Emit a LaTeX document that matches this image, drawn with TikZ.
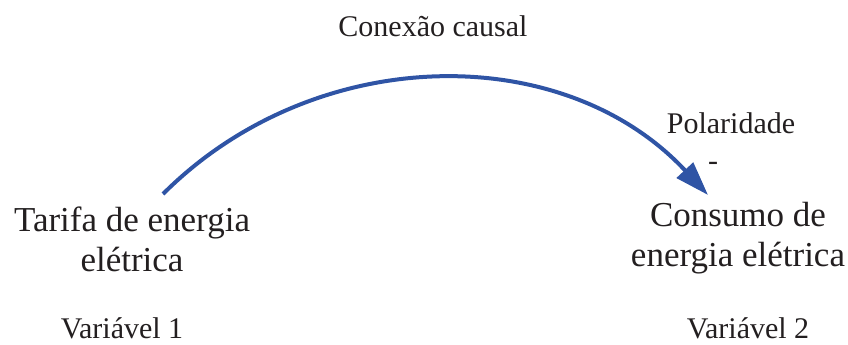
\documentclass[tikz,border=0pt]{standalone}
\usepackage{fontspec}
\setmainfont{Liberation Serif}
\usetikzlibrary{arrows.meta, positioning}
\definecolor{linkblue}{RGB}{47, 84, 165}
\definecolor{textgray}{RGB}{35, 31, 32}
\tikzset{
    varbox/.style={align=center, inner sep=0pt, text=textgray, font=\fontsize{35}{40}\selectfont},
    smalltext/.style={inner sep=0pt, text=textgray, font=\fontsize{30}{36}\selectfont},
    link/.style={draw=linkblue, line width=4pt, -{Triangle[length=34pt, width=22pt, fill=linkblue]}}
}

\begin{document}
\begin{tikzpicture}[x=1pt, y=1pt]
    \useasboundingbox (0,0) rectangle (848,-345);

    % base = last line
    \node[varbox, anchor=base] (tarifa) at (132,-271) {Tarifa de energia\\elétrica};
    \node[varbox, anchor=base] (consumo) at (738,-266) {Consumo de\\energia elétrica};

    \node[smalltext, anchor=base] (var1) at (122,-338) {Variável 1};
    \node[smalltext, anchor=base] (var2) at (748,-338) {Variável 2};

    \coordinate (src) at (163,-194);
    \coordinate (dst) at (708,-195);
    \draw[link] (src) to[out=45, in=133] (dst);

    \node[smalltext, anchor=base] (causal) at (433,-37) {Conexão causal};
    \node[smalltext, anchor=base] (polar) at (731,-133) {Polaridade};
    \node[smalltext, anchor=base] (sign) at (713,-170) {-};

\end{tikzpicture}
\end{document}
